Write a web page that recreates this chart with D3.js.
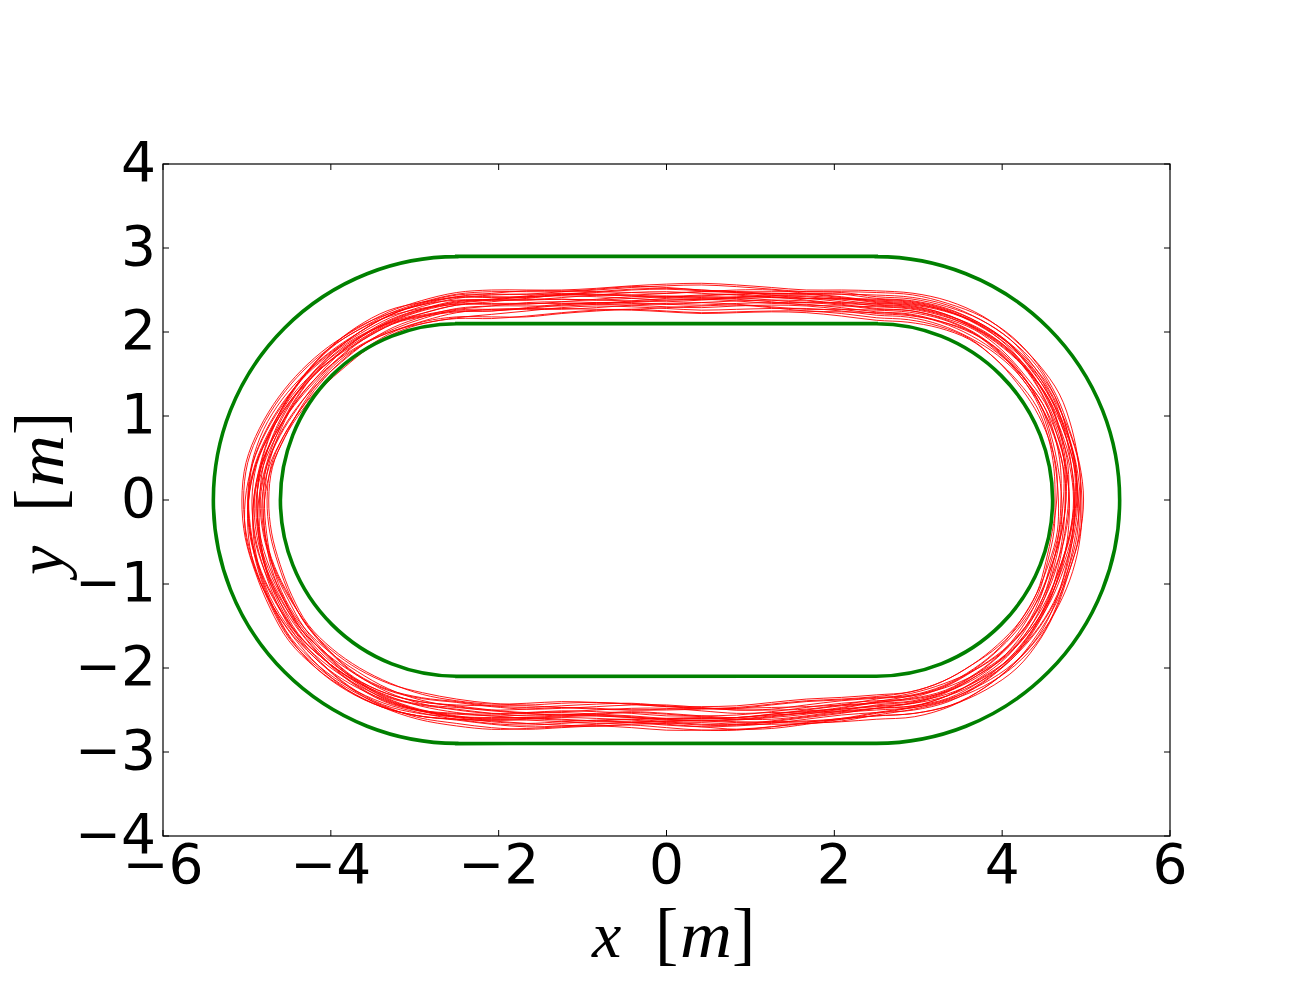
<!DOCTYPE html>
<html><head><meta charset="utf-8">
<script src="https://cdn.jsdelivr.net/npm/d3@7"></script>
<style>body{margin:0;background:#fff}</style>
</head><body>
<svg id="c" width="1300" height="1000"></svg>
<script>
// ---- data ----
const xTicks = [-6, -4, -2, 0, 2, 4, 6];
const yTicks = [-4, -3, -2, -1, 0, 1, 2, 3, 4];
const xDomain = [-6, 6];
const yDomain = [-4, 4];
// track geometry (m)
const trackHalfStraight = 2.5;
const trackRadii = [2.9, 2.1]; // outer, inner
// stations along the loop: 0-1 top straight (right->left), 1-2 left turn, 2-3 bottom straight, 3-4 right turn
const stationT = [0, 0.083, 0.167, 0.25, 0.333, 0.417, 0.5, 0.583, 0.667, 0.75, 0.833, 0.917,
  1, 1.056, 1.111, 1.167, 1.222, 1.278, 1.333, 1.389, 1.444, 1.5, 1.556, 1.611, 1.667, 1.722, 1.778, 1.833, 1.889, 1.944,
  2, 2.083, 2.167, 2.25, 2.333, 2.417, 2.5, 2.583, 2.667, 2.75, 2.833, 2.917,
  3, 3.056, 3.111, 3.167, 3.222, 3.278, 3.333, 3.389, 3.444, 3.5, 3.556, 3.611, 3.667, 3.722, 3.778, 3.833, 3.889, 3.944];
// mean lane radius of the driven paths at each station (m)
const centerline = [2.32, 2.35, 2.37, 2.39, 2.40, 2.40, 2.40, 2.40, 2.39, 2.38, 2.36, 2.34,
  2.32, 2.28, 2.27, 2.26, 2.26, 2.27, 2.29, 2.32, 2.36, 2.39, 2.41, 2.42, 2.43, 2.45, 2.46, 2.48, 2.50, 2.51,
  2.53, 2.56, 2.57, 2.57, 2.57, 2.57, 2.58, 2.59, 2.60, 2.58, 2.55, 2.51,
  2.46, 2.45, 2.45, 2.44, 2.43, 2.40, 2.36, 2.32, 2.31, 2.31, 2.32, 2.33, 2.35, 2.36, 2.37, 2.37, 2.35, 2.33];
// lateral deviation of each lap from the mean path (cm, + = outward)
const lapOffsetsCm = [
  [3,5,6,4,1,-1,-2,0,3,5, 6,4,2,1,-1,-3,-2,0,2,4, 7,9,8,6,4,3,1,0,2,3, 5,4,2,0,-1,1,3,4,2,1, 0,-2,-1,1,3,5,6,4,3,2, 4,6,7,5,3,2,4,5,4,3],
  [-5,-3,-2,-4,-6,-8,-7,-5,-4,-6, -8,-9,-7,-5,-3,-4,-6,-7,-5,-2, 0,-1,-3,-5,-6,-4,-2,-3,-5,-7, -8,-6,-4,-5,-7,-9,-10,-8,-6,-5, -3,-4,-6,-8,-7,-5,-3,-2,-4,-6, -7,-5,-3,-4,-6,-8,-7,-6,-5,-4],
  [10,12,11,9,8,10,13,14,12,10, 9,11,12,10,7,5,6,8,11,13, 12,10,8,9,11,13,15,14,12,10, 8,7,9,11,12,10,8,6,7,9, 11,12,10,8,9,12,14,15,13,11, 10,12,13,11,9,10,12,11,10,10],
  [-12,-10,-9,-11,-13,-14,-12,-10,-8,-9, -11,-13,-15,-14,-12,-10,-11,-13,-14,-12, -9,-7,-8,-10,-12,-13,-11,-9,-10,-12, -13,-11,-10,-12,-14,-15,-13,-11,-12,-14, -15,-13,-11,-9,-10,-12,-14,-16,-15,-13, -12,-14,-15,-13,-11,-10,-12,-14,-13,-12],
  [2,0,-2,-1,1,2,0,-3,-5,-4, -2,0,1,3,2,0,-2,-1,1,0, -2,-4,-3,-1,0,2,1,-1,-3,-2, 0,1,-1,-2,0,2,3,1,-1,-2, -1,1,2,0,-2,-3,-1,0,1,-1, -3,-2,0,1,3,2,0,-1,1,2],
  [6,4,3,5,7,8,6,4,5,7, 9,10,8,6,4,3,5,7,6,4, 2,3,5,7,8,6,4,2,1,3, 5,6,4,2,3,5,7,9,8,6, 4,3,2,4,6,5,3,2,4,6, 8,9,7,5,6,8,7,5,6,6],
  [-8,-6,-4,-5,-3,-1,-2,-4,-6,-7, -5,-3,-4,-6,-8,-10,-12,-11,-9,-7, -6,-8,-9,-7,-5,-4,-6,-8,-7,-5, -3,-2,-4,-6,-5,-3,-1,-2,-4,-6, -8,-9,-7,-5,-4,-6,-8,-10,-11,-9, -7,-5,-6,-8,-9,-7,-6,-8,-9,-8],
  [15,13,11,12,14,16,15,13,11,10, 12,14,13,11,9,8,10,12,14,16, 17,15,13,11,12,14,13,11,10,12, 13,15,16,14,12,11,13,15,14,12, 10,9,11,13,15,17,18,16,14,13, 15,16,14,12,13,15,16,15,14,15],
  [-2,-4,-5,-3,-1,1,3,2,0,-2, -3,-1,0,-2,-4,-5,-3,-1,-2,-4, -5,-3,-1,0,-2,-4,-5,-3,-2,-4, -6,-5,-3,-1,-2,-4,-3,-1,1,0, -2,-3,-5,-4,-2,-1,-3,-5,-6,-4, -2,-1,-3,-4,-2,0,1,-1,-2,-2],
  [4,6,8,7,5,3,2,4,6,8, 7,5,3,4,6,8,9,7,5,6, 8,10,9,7,5,4,6,8,9,7, 5,3,2,4,6,7,5,3,4,6, 8,9,7,5,3,2,4,6,8,9, 7,5,4,6,8,7,5,4,5,4],
  [-15,-13,-12,-14,-16,-17,-15,-13,-14,-16, -18,-16,-14,-12,-13,-15,-17,-16,-14,-12, -11,-13,-15,-16,-14,-12,-13,-15,-17,-18, -16,-14,-13,-15,-16,-14,-12,-11,-13,-15, -16,-14,-12,-13,-15,-17,-16,-14,-13,-15, -16,-18,-17,-15,-14,-16,-17,-15,-15,-15],
  [1,3,5,4,2,0,1,3,5,6, 4,2,0,-2,-1,1,3,2,0,-1, 1,3,4,2,0,-1,1,3,5,4, 2,1,3,5,6,4,2,0,1,3, 2,0,-2,-1,1,3,4,2,0,1, 3,5,4,2,1,3,2,0,1,1],
  [8,10,9,7,8,10,12,11,9,7, 6,8,10,9,7,5,4,6,8,10, 11,9,7,8,10,12,11,9,7,6, 8,10,11,9,7,8,10,11,9,8, 6,5,7,9,10,8,6,7,9,11, 12,10,8,9,11,10,8,7,8,8],
  [-6,-8,-10,-9,-7,-5,-6,-8,-10,-11, -9,-7,-6,-8,-10,-9,-7,-5,-4,-6, -8,-10,-11,-9,-7,-8,-10,-12,-11,-9, -7,-6,-8,-10,-9,-7,-8,-10,-12,-11, -9,-7,-5,-6,-8,-10,-9,-7,-6,-8, -10,-11,-9,-7,-6,-8,-9,-7,-6,-6],
  [12,10,8,6,7,9,11,10,8,6, 5,7,9,11,13,12,10,8,7,9, 11,13,14,12,10,9,11,13,12,10, 9,11,13,12,10,8,9,11,13,14, 12,10,11,13,15,14,12,10,11,13, 14,12,10,9,11,13,12,11,12,12],
  [-10,-8,-6,-7,-9,-11,-10,-8,-6,-5, -7,-9,-8,-6,-4,-5,-7,-9,-10,-8, -6,-5,-7,-9,-10,-8,-6,-4,-5,-7, -9,-11,-12,-10,-8,-7,-9,-11,-10,-8, -6,-7,-9,-11,-12,-10,-8,-7,-9,-11, -10,-8,-6,-7,-9,-10,-8,-7,-9,-10],
  [0,-1,1,3,5,4,2,0,-1,1, 2,4,5,3,1,-1,0,2,4,3, 1,-1,-2,0,2,3,1,-1,0,2, 4,5,3,1,0,2,4,3,1,-1, -2,0,2,4,3,1,0,-2,-1,1, 3,4,2,0,-1,1,2,1,0,0],
  [5,7,9,11,10,8,6,7,9,11, 13,12,10,8,9,11,10,8,6,5, 7,9,11,12,10,8,7,9,11,10, 8,6,5,7,9,8,6,4,5,7, 9,10,8,6,7,9,11,12,10,8, 6,7,9,8,6,5,7,6,5,5],
  [-4,-2,0,-1,-3,-5,-7,-6,-4,-2, -1,-3,-5,-4,-2,0,1,-1,-3,-4, -2,0,-1,-3,-5,-6,-4,-2,-1,-3, -4,-2,0,-1,-3,-5,-4,-2,-1,-3, -5,-6,-4,-2,-3,-5,-7,-6,-4,-3, -5,-6,-4,-2,-3,-5,-4,-3,-4,-4],
  [17,15,13,14,16,18,17,15,13,12, 14,16,15,13,11,10,12,14,16,18, 19,17,15,13,14,16,15,13,12,14, 16,17,15,13,12,14,16,15,13,12, 11,13,15,17,16,14,12,13,15,17, 16,14,13,15,17,16,15,16,17,17],
  [-18,-16,-14,-15,-17,-18,-16,-14,-13,-15, -17,-18,-16,-14,-15,-17,-19,-18,-16,-14, -13,-15,-17,-18,-16,-14,-15,-17,-18,-16, -14,-13,-15,-17,-16,-14,-12,-13,-15,-17, -18,-16,-14,-13,-15,-17,-18,-16,-15,-17, -18,-16,-14,-15,-17,-18,-17,-16,-17,-18],
  [7,5,3,2,4,6,8,7,5,3, 2,4,6,8,7,5,3,1,2,4, 6,5,3,2,4,6,7,5,3,4, 6,8,9,7,5,4,6,8,7,5, 3,2,4,6,8,7,5,3,2,4, 6,8,9,7,5,6,8,7,7,7],
  [-1,1,3,2,0,-2,-4,-3,-1,1, 3,5,4,2,0,-1,-3,-5,-4,-2, 0,2,1,-1,-3,-2,0,2,4,3, 1,-1,-3,-4,-2,0,2,1,-1,-3, -4,-2,0,1,-1,-3,-2,0,2,3, 1,-1,-2,0,2,1,-1,-2,-1,-1],
  [-9,-11,-12,-10,-8,-9,-11,-13,-12,-10, -8,-7,-9,-11,-12,-10,-9,-11,-13,-14, -12,-10,-9,-11,-13,-12,-10,-8,-9,-11, -12,-10,-8,-9,-11,-13,-14,-12,-10,-9, -11,-12,-10,-8,-9,-11,-13,-12,-10,-9, -8,-10,-12,-11,-9,-8,-10,-11,-10,-9]
];

// ---- drawing ----
const svg = d3.select("#c");
svg.append("rect").attr("width", 1300).attr("height", 1000).attr("fill", "#fff");
const x = d3.scaleLinear().domain(xDomain).range([163, 1170]);
const y = d3.scaleLinear().domain(yDomain).range([836, 164]);

// track-coordinate -> data coordinate mapping
function trackToXY(t, r) {
  const seg = Math.floor(t), f = t - seg, L = trackHalfStraight;
  if (seg === 0) return [L - 2 * L * f, r];
  if (seg === 1) { const a = Math.PI / 2 + Math.PI * f; return [-L + r * Math.cos(a), r * Math.sin(a)]; }
  if (seg === 2) return [-L + 2 * L * f, -r];
  const a = -Math.PI / 2 + Math.PI * f; return [L + r * Math.cos(a), r * Math.sin(a)];
}

const plot = svg.append("g");
const line = d3.line().x(d => x(d[0])).y(d => y(d[1])).curve(d3.curveCatmullRomClosed);
lapOffsetsCm.forEach(offs => {
  const pts = stationT.map((t, i) => trackToXY(t, centerline[i] + offs[i] / 100));
  plot.append("path").attr("d", line(pts)).attr("fill", "none")
    .attr("stroke", "#ff0000").attr("stroke-width", 0.9).attr("stroke-linejoin", "round");
});

// track boundaries
trackRadii.forEach(R => {
  const p = d3.path();
  const pr = x(R) - x(0);
  const L = trackHalfStraight;
  p.moveTo(x(-L), y(R));
  p.lineTo(x(L), y(R));
  p.arc(x(L), y(0), pr, -Math.PI / 2, Math.PI / 2, false);
  p.lineTo(x(-L), y(-R));
  p.arc(x(-L), y(0), pr, Math.PI / 2, 3 * Math.PI / 2, false);
  p.closePath();
  plot.append("path").attr("d", p.toString()).attr("fill", "none")
    .attr("stroke", "#008000").attr("stroke-width", 3.6);
});

// frame
svg.append("rect").attr("x", 163).attr("y", 164).attr("width", 1007).attr("height", 672)
  .attr("fill", "none").attr("stroke", "#000").attr("stroke-width", 1.2);

const tl = 6;
const fmt = d3.format("d");
const tickG = svg.append("g").attr("stroke", "#000").attr("stroke-width", 1);
xTicks.forEach(v => {
  tickG.append("line").attr("x1", x(v)).attr("x2", x(v)).attr("y1", 836).attr("y2", 836 - tl);
  tickG.append("line").attr("x1", x(v)).attr("x2", x(v)).attr("y1", 164).attr("y2", 164 + tl);
});
yTicks.forEach(v => {
  tickG.append("line").attr("x1", 163).attr("x2", 163 + tl).attr("y1", y(v)).attr("y2", y(v));
  tickG.append("line").attr("x1", 1170).attr("x2", 1170 - tl).attr("y1", y(v)).attr("y2", y(v));
});
const labG = svg.append("g").attr("font-family", "DejaVu Sans").attr("font-size", 55).attr("fill", "#000");
xTicks.forEach(v => {
  labG.append("text").attr("x", x(v)).attr("y", 883).attr("text-anchor", "middle").text(fmt(v));
});
yTicks.forEach(v => {
  labG.append("text").attr("x", 156).attr("y", y(v) + 17).attr("text-anchor", "end").text(fmt(v));
});

// axis titles (math style)
function mathLabel(g, v) {
  const f = "Liberation Serif";
  g.append("text").attr("x", -75).attr("y", 0).attr("font-family", f).attr("font-style", "italic")
    .attr("font-size", 66).text(v);
  g.append("text").attr("x", -12).attr("y", 0).attr("font-family", f).attr("font-size", 70).text("[");
  g.append("text").attr("x", 39).attr("y", 0).attr("font-family", f).attr("font-style", "italic")
    .attr("font-size", 66).attr("text-anchor", "middle").attr("textLength", 52).attr("lengthAdjust", "spacingAndGlyphs").text("m");
  g.append("text").attr("x", 65).attr("y", 0).attr("font-family", f).attr("font-size", 70).text("]");
}
mathLabel(svg.append("g").attr("transform", "translate(667,957)"), "x");
mathLabel(svg.append("g").attr("transform", "translate(63,500) rotate(-90)"), "y");
</script>
</body></html>
